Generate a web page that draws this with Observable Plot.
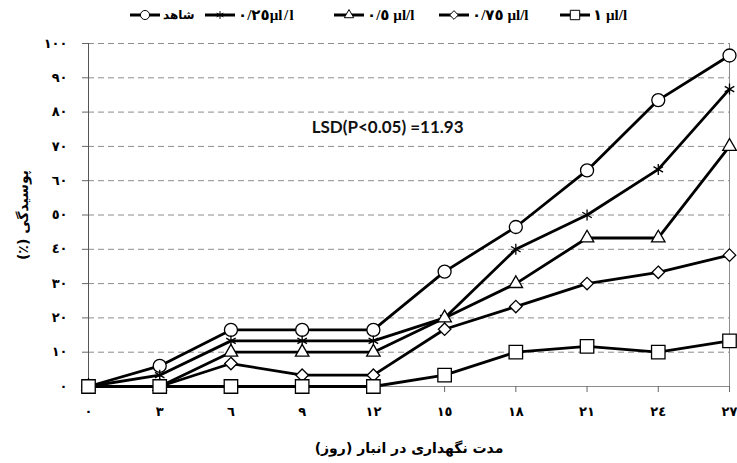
<!DOCTYPE html>
<html><head><meta charset="utf-8">
<script src="https://cdn.jsdelivr.net/npm/d3@7"></script>
<script src="https://cdn.jsdelivr.net/npm/@observablehq/plot@0.6"></script>
<style>
body{margin:0;background:#fff;width:737px;height:463px;overflow:hidden;font-family:"DejaVu Sans",sans-serif}
#legend{position:relative;height:28px;direction:ltr}
.item{position:absolute;top:6px;display:flex;align-items:center;height:18px;font:bold 15px "Liberation Serif","DejaVu Sans",serif;white-space:nowrap;color:#000}
.item svg{margin-right:3px}
.item.fa{font-size:12px}
.item.wide span{letter-spacing:1.5px}
#chart svg text{font-weight:bold}
</style></head><body>
<div id="legend"></div><div id="chart"></div>
<script>
// ---- data ----
const days = [0, 3, 6, 9, 12, 15, 18, 21, 24, 27];
const control = [0, 6, 16.5, 16.5, 16.5, 33.5, 46.5, 63, 83.5, 96.5];
const dose025 = [0, 3.3, 13.3, 13.3, 13.3, 20, 40, 50, 63.3, 86.7];
const dose05 = [0, 0, 10, 10, 10, 20, 30, 43.3, 43.3, 70];
const dose075 = [0, 0, 6.7, 3.3, 3.3, 16.7, 23.3, 30, 33.3, 38.3];
const dose1 = [0, 0, 0, 0, 0, 3.3, 10, 11.7, 10, 13.3];
const seriesNames = ["شاهد", "٠/٢٥µl/l", "٠/٥ µl/l", "٠/٧٥ µl/l", "١ µl/l"];
const seriesValues = [control, dose025, dose05, dose075, dose1];
const xTickLabels = ["٠", "٣", "٦", "٩", "١٢", "١٥", "١٨", "٢١", "٢٤", "٢٧"];
const yTicks = [0, 10, 20, 30, 40, 50, 60, 70, 80, 90, 100];
const yTickLabels = ["٠", "١٠", "٢٠", "٣٠", "٤٠", "٥٠", "٦٠", "٧٠", "٨٠", "٩٠", "١٠٠"];
const xTitle = "مدت نگهداری در انبار (روز)";
const yTitle = "پوسیدگی (٪)";
const annotation = [{day: 12.6, value: 75.5, text: "LSD(P<0.05) =11.93"}];

// ---- styles (kept apart from data) ----
const symbols = ["circle", "asterisk", "triangle", "diamond2", "square"];
const radii = [6.5, 5.2, 5, 5.6, 7.6];
const legendLeft = [130, 205, 334, 439, 560];
const legendClass = ["fa", "wide", "", "", ""];

const rows = [];
seriesValues.forEach((vals, i) => days.forEach((d, j) => rows.push({day: d, value: vals[j], series: seriesNames[i]})));

// ---- legend ----
const legend = document.getElementById("legend");
const d3sym = {circle: d3.symbolCircle, asterisk: d3.symbolAsterisk, triangle: d3.symbolTriangle, diamond2: d3.symbolDiamond2, square: d3.symbolSquare};
seriesNames.forEach((name, i) => {
  const item = document.createElement("div");
  item.className = "item " + legendClass[i];
  item.style.left = legendLeft[i] + "px";
  const r = radii[i] * 0.7;
  const path = d3.symbol(d3sym[symbols[i]], Math.PI * r * r)();
  item.innerHTML = `<svg width="30" height="16"><line x1="0" x2="30" y1="8" y2="8" stroke="#000" stroke-width="3"/><path d="${path}" transform="translate(15,8)" fill="#fff" stroke="#000" stroke-width="1"/></svg><span>${name}</span>`;
  legend.appendChild(item);
});

// ---- chart ----
const marks = [
  Plot.ruleY(yTicks.filter(d => d > 0), {stroke: "#8c8c8c", strokeDasharray: "6,4", strokeWidth: 1}),
  Plot.ruleX([27], {stroke: "#8c8c8c", strokeWidth: 1}),
  Plot.ruleY([0], {stroke: "#8c8c8c", strokeWidth: 1}),
  Plot.ruleX([0], {stroke: "#555", strokeWidth: 1}),
  Plot.axisY({ticks: yTicks, tickFormat: d => yTickLabels[yTicks.indexOf(d)], tickSize: 6, tickPadding: 15, stroke: "#666",
    label: yTitle, labelAnchor: "center", labelOffset: 70, labelArrow: "none", fontSize: 13}),
  Plot.axisX({ticks: days, tickFormat: d => xTickLabels[days.indexOf(d)], tickSize: 6, tickPadding: 14, stroke: "#666",
    label: xTitle, labelAnchor: "center", labelOffset: 66, labelArrow: "none", fontSize: 13})
];
seriesNames.forEach((name, i) => {
  const data = rows.filter(r => r.series === name);
  marks.push(Plot.line(data, {x: "day", y: "value", stroke: "#000", strokeWidth: 2.8}));
  marks.push(Plot.dot(data, {x: "day", y: "value", symbol: symbols[i], r: radii[i], fill: "#fff", stroke: "#000", strokeWidth: 1.3}));
});
marks.push(Plot.text(annotation, {x: "day", y: "value", text: "text", fontFamily: "Lato", fontWeight: "bold", fontSize: 17, fill: "#111"}));

const chart = Plot.plot({
  width: 737, height: 435,
  marginLeft: 88, marginRight: 8, marginTop: 15, marginBottom: 77,
  x: {domain: [0, 27]},
  y: {domain: [0, 100]},
  style: {fontFamily: "DejaVu Sans, sans-serif", fontSize: "12px", color: "#000", background: "#fff"},
  marks
});
// right-to-left titles
for (const key of ["x-axis label", "y-axis label"]) {
  const g = chart.querySelector(`[aria-label="${key}"]`);
  if (g) g.querySelectorAll("text").forEach(t => { t.setAttribute("direction", "rtl"); t.style.fontSize = "14px"; });
}
document.getElementById("chart").appendChild(chart);
</script>
</body></html>
